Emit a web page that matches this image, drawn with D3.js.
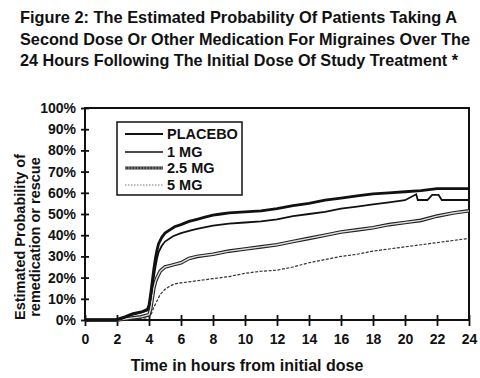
<!DOCTYPE html>
<html><head><meta charset="utf-8">
<script src="https://cdn.jsdelivr.net/npm/d3@7"></script>
<style>body{margin:0;background:#fff}svg{display:block}text{font-family:"Liberation Sans",Arial,Helvetica,sans-serif;font-weight:bold;fill:#111}</style>
</head><body><svg id="c" width="480" height="378"></svg>
<script>
const titleLines = ["Figure 2: The Estimated Probability Of Patients Taking A",
  "Second Dose Or Other Medication For Migraines Over The",
  "24 Hours Following The Initial Dose Of Study Treatment *"];
const yTickLabels = ["0%","10%","20%","30%","40%","50%","60%","70%","80%","90%","100%"];
const xTicks = [0,2,4,6,8,10,12,14,16,18,20,22,24];
const seriesNames = ["PLACEBO","1 MG","2.5 MG","5 MG"];
const placebo = [[0,0],[1.9,0],[2.2,0.8],[2.5,1.5],[2.8,2.5],[3.0,3],[3.3,3.5],[3.6,4],[3.9,5],[4.0,7],[4.1,12],[4.2,18],[4.3,24],[4.4,29],[4.5,33],[4.6,36],[4.8,39],[5.0,41],[5.3,42.5],[5.6,44],[6.0,45],[6.5,46.5],[7,47.5],[7.5,48.5],[8,49.5],[8.5,50],[9,50.5],[10,51],[11,51.5],[12,52.5],[13,54],[14,55],[15,56.5],[16,57.5],[17,58.5],[18,59.5],[19,60],[20,60.5],[21,61],[22,62],[24,62]];
const mg1 = [[0,0],[2,0],[2.3,0.5],[2.6,1.5],[3,2.5],[3.5,3.5],[3.9,4.5],[4.0,6],[4.1,10],[4.2,15],[4.3,20],[4.4,25],[4.5,29],[4.6,32],[4.8,35],[5.0,37],[5.5,39.5],[6,41],[6.5,42],[7,43],[8,44.5],[9,45.5],[10,46],[11,46.5],[12,47.5],[13,49],[14,50],[15,51],[16,52.5],[17,53.5],[18,54.5],[19,55.5],[20,56.5],[20.7,59.3],[20.8,56.6],[21.4,56.6],[21.7,59],[22.1,59],[22.3,56.6],[24,56.6]];
const mg25 = [[0,0],[2,0],[2.5,0.5],[3,1],[3.5,1.5],[4.0,2.5],[4.1,5],[4.2,10],[4.3,15],[4.4,18],[4.5,20],[4.7,23],[5.0,25],[5.5,26],[6,27],[6.5,29],[7,30],[8,31],[9,32.5],[10,33.5],[11,34.5],[12,35.5],[13,37],[14,38.5],[15,40],[16,41.5],[17,42.5],[18,43.5],[19,45],[20,46],[21,47],[22,49],[23,50.5],[24,51.5]];
const mg5 = [[0,0],[2,0],[3,0.5],[3.8,1],[4.1,2],[4.2,4],[4.3,6],[4.5,9],[4.7,12],[5.0,14.5],[5.3,16],[5.6,17],[6,17.5],[7,18.5],[8,19.5],[9,20.5],[10,22],[11,23],[12,23.5],[13,25],[14,27],[15,28.5],[16,30],[17,31],[18,32.5],[19,33.5],[20,34.5],[21,35.5],[22,36.5],[23,37.5],[24,38.5]];

const svg = d3.select("#c");
const x = d3.scaleLinear().domain([0,24]).range([85,469]);
const y = d3.scaleLinear().domain([0,100]).range([320,108]);

// title
const tW = [437,450,438];
titleLines.forEach((t,i)=>{
  svg.append("text").attr("x",20).attr("y",23+i*21.5).attr("font-size",16.5)
    .attr("textLength",tW[i]).attr("lengthAdjust","spacingAndGlyphs").text(t);
});

// frame
svg.append("rect").attr("x",x(0)).attr("y",y(100)).attr("width",x(24)-x(0)).attr("height",y(0)-y(100))
  .attr("fill","none").attr("stroke","#111").attr("stroke-width",2);

// y axis
const yAx = svg.append("g").attr("transform",`translate(${x(0)},0)`)
  .call(d3.axisLeft(y).tickValues(d3.range(0,101,10)).tickFormat((d,i)=>yTickLabels[i]).tickSizeInner(4).tickSizeOuter(0).tickPadding(5));
yAx.select(".domain").remove();
yAx.selectAll(".tick line").attr("x2",4).attr("x1",-4).attr("stroke","#111").attr("stroke-width",1.8);
yAx.selectAll(".tick text").attr("font-size",14).attr("font-family","Liberation Sans, Arial, sans-serif").attr("font-weight","bold").attr("fill","#111").attr("x",-9);

// x axis
const xAx = svg.append("g").attr("transform",`translate(0,${y(0)})`)
  .call(d3.axisBottom(x).tickValues(xTicks).tickSizeInner(5).tickSizeOuter(0).tickPadding(9));
xAx.select(".domain").remove();
xAx.selectAll(".tick line").attr("y1",-5).attr("y2",6).attr("stroke","#111").attr("stroke-width",1.8);
xAx.selectAll(".tick text").attr("font-size",14).attr("font-family","Liberation Sans, Arial, sans-serif").attr("font-weight","bold").attr("fill","#111");

// axis titles
svg.append("text").attr("x",247).attr("y",371).attr("text-anchor","middle").attr("font-size",16).text("Time in hours from initial dose");
svg.append("text").attr("transform","translate(25,237) rotate(-90)").attr("text-anchor","middle").attr("font-size",14.5).text("Estimated Probability of");
svg.append("text").attr("transform","translate(40,237) rotate(-90)").attr("text-anchor","middle").attr("font-size",14.5).text("remedication or rescue");

const line = d3.line().x(d=>x(d[0])).y(d=>y(d[1]));
const g = svg.append("g");
// 5 MG dotted
g.append("path").attr("d",line(mg5)).attr("fill","none").attr("stroke","#333").attr("stroke-width",1.2).attr("stroke-dasharray","3,1.5");
// 2.5 MG double line
g.append("path").attr("d",line(mg25)).attr("fill","none").attr("stroke","#222").attr("stroke-width",3.6);
g.append("path").attr("d",line(mg25)).attr("fill","none").attr("stroke","#ddd").attr("stroke-width",1.4);
// 1 MG
g.append("path").attr("d",line(mg1)).attr("fill","none").attr("stroke","#111").attr("stroke-width",1.8);
// placebo
g.append("path").attr("d",line(placebo)).attr("fill","none").attr("stroke","#111").attr("stroke-width",2.8);

// legend
const lg = svg.append("g");
lg.append("rect").attr("x",117).attr("y",122).attr("width",125).attr("height",73).attr("fill","#fff").attr("stroke","#111").attr("stroke-width",1.5);
const ly = [134,152,168,185];
seriesNames.forEach((n,i)=>{
  const yy = ly[i];
  if(i===0){
    lg.append("line").attr("x1",125).attr("x2",163).attr("y1",yy).attr("y2",yy).attr("stroke","#111").attr("stroke-width",2);
  } else if(i===1){
    lg.append("line").attr("x1",125).attr("x2",163).attr("y1",yy).attr("y2",yy).attr("stroke","#111").attr("stroke-width",1.5);
  } else if(i===2){
    lg.append("line").attr("x1",125).attr("x2",163).attr("y1",yy).attr("y2",yy).attr("stroke","#333").attr("stroke-width",3);
    lg.append("line").attr("x1",125).attr("x2",163).attr("y1",yy).attr("y2",yy).attr("stroke","#bbb").attr("stroke-width",1.2).attr("stroke-dasharray","1.5,1.5");
  } else {
    lg.append("line").attr("x1",125).attr("x2",163).attr("y1",yy).attr("y2",yy).attr("stroke","#777").attr("stroke-width",1.2).attr("stroke-dasharray","1.5,1.5");
  }
  lg.append("text").attr("x",167).attr("y",yy+5).attr("font-size",14.5).text(n);
});
</script></body></html>
